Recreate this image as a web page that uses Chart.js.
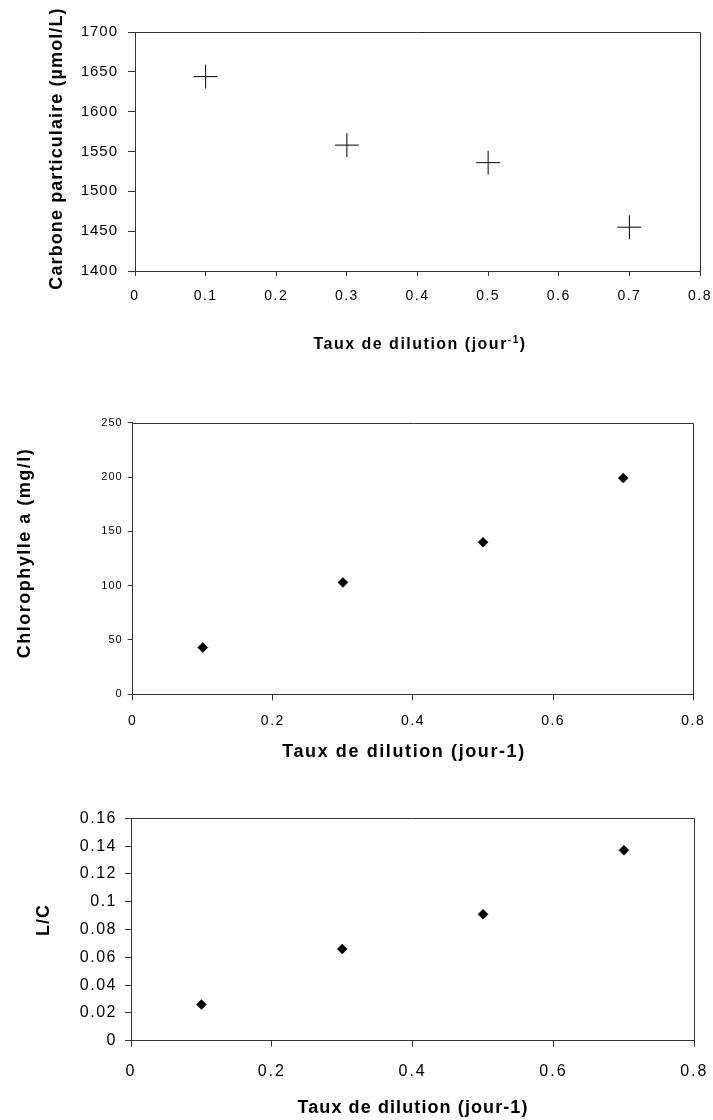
<!DOCTYPE html>
<html>
<head>
<meta charset="utf-8">
<title>Taux de dilution</title>
<script src="https://cdn.jsdelivr.net/npm/chart.js@4.4.1/dist/chart.umd.min.js"></script>
<style>
  html, body { margin: 0; padding: 0; background: #fff; }
  body { width: 713px; height: 1120px; position: relative; overflow: hidden; }
  canvas { position: absolute; left: 0; }
</style>
</head>
<body>
<canvas id="carbone" width="713" height="368" style="top:0px"></canvas>
<canvas id="chloro" width="713" height="395" style="top:368px"></canvas>
<canvas id="ratio" width="713" height="357" style="top:763px"></canvas>
<script>
// Dilution rates (jour-1) and the measured values
const dilution = [0.1, 0.3, 0.5, 0.7];
const carbone = [1644, 1558, 1536, 1455];
const chlorophylle = [43, 103, 140, 199];
const rapportLC = [0.026, 0.066, 0.091, 0.137];

// Tick values and their labels
const xTicksFine = [0, 0.1, 0.2, 0.3, 0.4, 0.5, 0.6, 0.7, 0.8];
const xLabelsFine = ['0', '0.1', '0.2', '0.3', '0.4', '0.5', '0.6', '0.7', '0.8'];
const xTicksCoarse = [0, 0.2, 0.4, 0.6, 0.8];
const xLabelsCoarse = ['0', '0.2', '0.4', '0.6', '0.8'];
const carboneTicks = [1400, 1450, 1500, 1550, 1600, 1650, 1700];
const carboneLabels = ['1400', '1450', '1500', '1550', '1600', '1650', '1700'];
const chloroTicks = [0, 50, 100, 150, 200, 250];
const chloroLabels = ['0', '50', '100', '150', '200', '250'];
const lcTicks = [0, 0.02, 0.04, 0.06, 0.08, 0.1, 0.12, 0.14, 0.16];
const lcLabels = ['0', '0.02', '0.04', '0.06', '0.08', '0.1', '0.12', '0.14', '0.16'];

const FONT = '"Liberation Sans", Arial, Helvetica, sans-serif';
const INK = '#000';
const LINE = '#333';

// Draw a scale with some letter spacing on its labels
function spaceLabels(scale, spacing) {
  if (scale._spacedDraw) return;
  scale._spacedDraw = true;
  const baseDraw = scale.draw;
  scale.draw = function (area) {
    const c = this.ctx;
    c.save();
    c.letterSpacing = spacing + 'px';
    baseDraw.call(this, area);
    c.restore();
  };
}

function makeAxis(cfg) {
  return {
    type: 'linear',
    min: cfg.min,
    max: cfg.max,
    afterBuildTicks: (s) => { s.ticks = cfg.ticks.map(v => ({ value: v })); },
    ticks: {
      callback: (v, i) => cfg.labels[i],
      font: { family: FONT, size: cfg.fontSize },
      color: INK,
      padding: cfg.padding,
      autoSkip: false,
      maxRotation: 0,
      minRotation: 0
    },
    grid: {
      drawOnChartArea: false,
      drawTicks: true,
      tickLength: cfg.tickLength,
      tickColor: LINE,
      color: LINE,
      lineWidth: 1
    },
    border: { display: true, color: LINE, width: 1 },
    afterFit: (s) => {
      if (s.isHorizontal()) s.height = cfg.size; else s.width = cfg.size;
      s.paddingLeft = 0; s.paddingRight = 0; s.paddingTop = 0; s.paddingBottom = 0;
      spaceLabels(s, cfg.spacing);
    }
  };
}

// Frame (top and right sides) plus axis titles
const framePlugin = {
  id: 'frameAndTitles',
  afterDraw(chart, args, opts) {
    const { ctx, chartArea: a } = chart;
    ctx.save();
    ctx.strokeStyle = LINE;
    ctx.lineWidth = 1;
    ctx.beginPath();
    const top = Math.round(a.top) + 0.5, right = Math.round(a.right) + 0.5;
    ctx.moveTo(Math.round(a.left), top);
    ctx.lineTo(right, top);
    ctx.lineTo(right, Math.round(a.bottom) + 1);
    ctx.stroke();
    ctx.restore();

    ctx.save();
    ctx.fillStyle = INK;
    ctx.textBaseline = 'alphabetic';
    ctx.textAlign = 'left';
    // horizontal title, made of runs (used for the superscript)
    const xt = opts.xTitle;
    ctx.letterSpacing = xt.spacing + 'px';
    let total = 0;
    const widths = xt.runs.map(r => {
      ctx.font = 'bold ' + r.size + 'px ' + FONT;
      const w = ctx.measureText(r.text).width;
      total += w;
      return w;
    });
    let x = xt.cx - total / 2;
    xt.runs.forEach((r, i) => {
      ctx.font = 'bold ' + r.size + 'px ' + FONT;
      ctx.fillText(r.text, x, xt.baseline - (r.rise || 0));
      x += widths[i];
    });
    // vertical title
    const yt = opts.yTitle;
    ctx.letterSpacing = yt.spacing + 'px';
    ctx.font = 'bold ' + yt.size + 'px ' + FONT;
    ctx.translate(yt.baseline, yt.cy);
    ctx.rotate(-Math.PI / 2);
    ctx.textAlign = 'center';
    ctx.fillText(yt.text, 0, 0);
    ctx.restore();
  }
};

function makeChart(id, data, pointOpts, xAxis, yAxis, padding, titles) {
  return new Chart(document.getElementById(id), {
    type: 'scatter',
    data: {
      datasets: [{
        data: dilution.map((d, i) => ({ x: d, y: data[i] })),
        showLine: false,
        ...pointOpts
      }]
    },
    options: {
      responsive: false,
      animation: false,
      devicePixelRatio: 1,
      layout: { padding },
      scales: { x: xAxis, y: yAxis },
      plugins: {
        legend: { display: false },
        tooltip: { enabled: false },
        frameAndTitles: titles
      }
    },
    plugins: [framePlugin]
  });
}

// Carbone particulaire
makeChart('carbone', carbone,
  { pointStyle: 'cross', pointRadius: 12, borderColor: INK, backgroundColor: INK, borderWidth: 1 },
  makeAxis({ min: 0, max: 0.8, ticks: xTicksFine, labels: xLabelsFine, fontSize: 14, padding: 12, tickLength: 5, size: 97, spacing: 1.5 }),
  makeAxis({ min: 1400, max: 1700, ticks: carboneTicks, labels: carboneLabels, fontSize: 15, padding: 10, tickLength: 7, size: 135, spacing: 1 }),
  { top: 32, right: 12, left: 0, bottom: 0 },
  {
    xTitle: { cx: 420, baseline: 349, spacing: 1.5, runs: [
      { text: 'Taux de dilution (jour', size: 16 },
      { text: '-1', size: 10, rise: 6 },
      { text: ')', size: 16 }
    ] },
    yTitle: { text: 'Carbone particulaire (µmol/L)', size: 18, spacing: 1.1, baseline: 62, cy: 148.5 }
  });

// Chlorophylle a
makeChart('chloro', chlorophylle,
  { pointStyle: 'rectRot', pointRadius: 5, borderColor: INK, backgroundColor: INK, borderWidth: 0.5 },
  makeAxis({ min: 0, max: 0.8, ticks: xTicksCoarse, labels: xLabelsCoarse, fontSize: 14, padding: 12, tickLength: 6, size: 68.7, spacing: 1.5 }),
  makeAxis({ min: 0, max: 250, ticks: chloroTicks, labels: chloroLabels, fontSize: 11, padding: 5, tickLength: 5, size: 132.7, spacing: 1 }),
  { top: 54.7, right: 19.7, left: 0, bottom: 0 },
  {
    xTitle: { cx: 404, baseline: 389, spacing: 1.6, runs: [{ text: 'Taux de dilution (jour-1)', size: 18 }] },
    yTitle: { text: 'Chlorophylle a (mg/l)', size: 18, spacing: 1.5, baseline: 30, cy: 185 }
  });

// Rapport L/C
makeChart('ratio', rapportLC,
  { pointStyle: 'rectRot', pointRadius: 5, borderColor: INK, backgroundColor: INK, borderWidth: 0.5 },
  makeAxis({ min: 0, max: 0.8, ticks: xTicksCoarse, labels: xLabelsCoarse, fontSize: 16, padding: 15, tickLength: 6, size: 79.3, spacing: 2 }),
  makeAxis({ min: 0, max: 0.16, ticks: lcTicks, labels: lcLabels, fontSize: 16, padding: 8, tickLength: 6, size: 131, spacing: 1.5 }),
  { top: 55.3, right: 18.7, left: 0, bottom: 0 },
  {
    xTitle: { cx: 413, baseline: 350, spacing: 1.1, runs: [{ text: 'Taux de dilution (jour-1)', size: 18 }] },
    yTitle: { text: 'L/C', size: 18, spacing: 1, baseline: 49, cy: 157 }
  });
</script>
</body>
</html>
